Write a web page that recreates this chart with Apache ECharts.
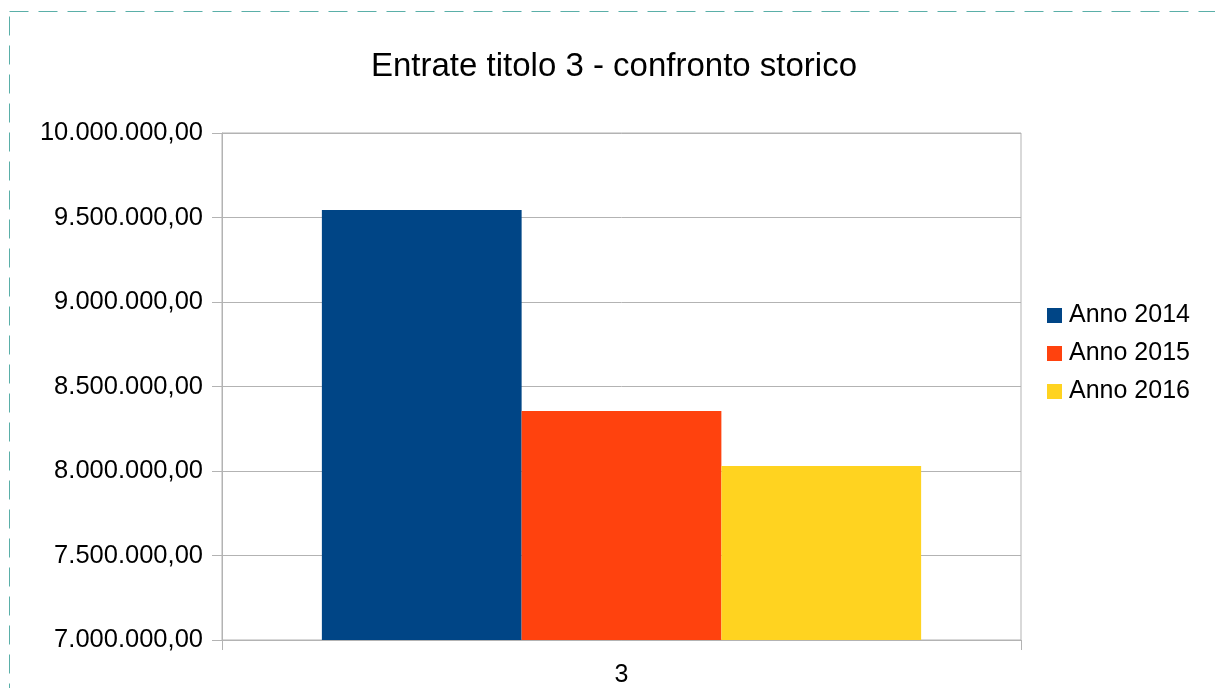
<!DOCTYPE html>
<html>
<head>
<meta charset="utf-8">
<script src="https://cdn.jsdelivr.net/npm/echarts@6/dist/echarts.min.js"></script>
<style>html,body{margin:0;padding:0;background:#fff}#c{width:1215px;height:688px}</style>
</head>
<body>
<div id="c"></div>
<script>
const categories = ['3'];
const seriesNames = ['Anno 2014', 'Anno 2015', 'Anno 2016'];
const values2014 = [9545000];
const values2015 = [8355000];
const values2016 = [8030000];
const colors = ['#004586', '#ff420e', '#ffd320'];

function fmt(v) {
  const s = Math.round(v).toString().replace(/\B(?=(\d{3})+(?!\d))/g, '.');
  return s + ',00';
}

const chart = echarts.init(document.getElementById('c'), null, {renderer: 'canvas'});
const seriesData = [values2014, values2015, values2016];
chart.setOption({
  animation: false,
  backgroundColor: '#fff',
  textStyle: {fontFamily: 'Liberation Sans'},
  title: {
    text: 'Entrate titolo 3 - confronto storico',
    left: 609, top: 45, textAlign: 'center',
    textStyle: {fontFamily: 'Liberation Sans', fontSize: 33, fontWeight: 'normal', color: '#000'}
  },
  legend: {
    orient: 'vertical', left: 1042, top: 298,
    itemWidth: 15, itemHeight: 15, itemGap: 13, icon: 'rect',
    textStyle: {fontFamily: 'Liberation Sans', fontSize: 25, color: '#000', padding: [0,0,0,2]},
    data: seriesNames
  },
  grid: {left: 222, right: 194, top: 133, bottom: 48, show: true, borderColor: '#b3b3b3', borderWidth: 1, containLabel: false, outerBoundsMode: 'none'},
  xAxis: {
    type: 'category', data: categories,
    axisLine: {lineStyle: {color: '#b3b3b3'}},
    axisTick: {show: true, length: 10, lineStyle: {color: '#b3b3b3'}},
    axisLabel: {fontFamily: 'Liberation Sans', fontSize: 25, color: '#000', margin: 23}
  },
  yAxis: {
    type: 'value', min: 7000000, max: 10000000, interval: 500000,
    axisLine: {show: true, lineStyle: {color: '#b3b3b3'}},
    axisTick: {show: true, length: 10, lineStyle: {color: '#b3b3b3'}},
    splitLine: {lineStyle: {color: '#b3b3b3'}},
    axisLabel: {fontFamily: 'Liberation Sans', fontSize: 25.5, color: '#000', margin: 19, formatter: fmt}
  },
  series: seriesNames.map((n, i) => ({
    name: n, type: 'bar', data: seriesData[i],
    itemStyle: {color: colors[i]},
    barGap: '0%', barCategoryGap: '25%'
  })),
  graphic: [{
    type: 'rect', silent: true,
    shape: {x: 9.5, y: 11.5, width: 1300, height: 800},
    style: {fill: null, stroke: '#5aafa8', lineWidth: 1, lineDash: [19, 10]}
  }]
});
</script>
</body>
</html>
